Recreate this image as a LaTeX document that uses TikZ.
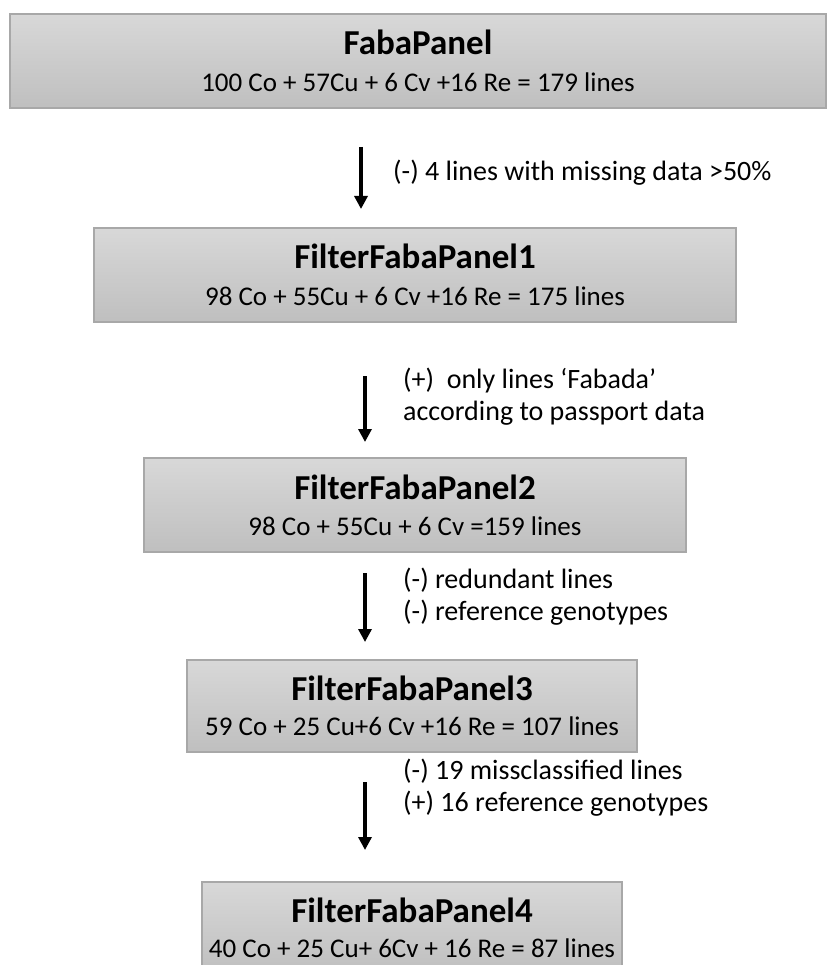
\documentclass[tikz,border=0pt]{standalone}
\usepackage{fontspec}
\setmainfont{Carlito}
\usetikzlibrary{arrows.meta}

\definecolor{paneltop}{HTML}{D8D8D8}
\definecolor{panelbottom}{HTML}{BFBFBF}
\definecolor{panelline}{HTML}{A8A8A8}

\newcommand{\ptitle}[1]{{\fontsize{35}{38}\selectfont\bfseries #1}}

\begin{document}
\begin{tikzpicture}[x=1pt, y=-1pt,
        panel/.style={rectangle, draw=panelline, line width=1.5pt, top color=paneltop, bottom color=panelbottom, align=center, inner sep=0pt, font=\fontsize{27}{30}\selectfont},
        flow/.style={draw, line width=3.2pt, -{Triangle[width=13pt, length=13pt]}},
        note/.style={anchor=west, align=left, inner sep=0pt, font=\fontsize{28}{32}\selectfont}
    ]
 \useasboundingbox (0,0) rectangle (827,965);
 \fill[white] (0,0) rectangle (827,965);

 % panels
 \node[panel, minimum width=816pt, minimum height=94pt] (faba) at (418,61)
     {\ptitle{FabaPanel}\\[7pt]100 Co + 57Cu + 6 Cv +16 Re = 179 lines};
 \node[panel, minimum width=642pt, minimum height=94pt] (filt1) at (415,275)
     {\ptitle{FilterFabaPanel1}\\[7pt]98 Co + 55Cu + 6 Cv +16 Re = 175 lines};
 \node[panel, minimum width=542pt, minimum height=94pt] (filt2) at (415,505)
     {\ptitle{FilterFabaPanel2}\\[6pt]98 Co + 55Cu + 6 Cv =159 lines};
 \node[panel, minimum width=450pt, minimum height=92pt] (filt3) at (412,706)
     {\ptitle{FilterFabaPanel3}\\[5pt]59 Co + 25 Cu+6 Cv +16 Re = 107 lines};
 \node[panel, minimum width=420pt, minimum height=92pt] (filt4) at (412,928)
     {\ptitle{FilterFabaPanel4}\\[5pt]40 Co + 25 Cu+ 6Cv + 16 Re = 87 lines};

 % filtering steps
 \coordinate (s1) at (361,147);  \coordinate (e1) at (361,209);
 \coordinate (s2) at (365,376);  \coordinate (e2) at (365,442);
 \coordinate (s3) at (365,573);  \coordinate (e3) at (365,642);
 \coordinate (s4) at (365,782);  \coordinate (e4) at (365,850);
 \draw[flow] (s1) -- (e1);
 \draw[flow] (s2) -- (e2);
 \draw[flow] (s3) -- (e3);
 \draw[flow] (s4) -- (e4);

 \node[note] (n1) at (393,173) {(-) 4 lines with missing data >50\%};
 \node[note] (n2) at (403,397) {(+)~ only lines `Fabada'\\according to passport data};
 \node[note] (n3) at (403,597) {(-) redundant lines\\(-) reference genotypes};
 \node[note] (n4) at (403,788) {(-) 19 missclassified lines\\(+) 16 reference genotypes};
\end{tikzpicture}
\end{document}
